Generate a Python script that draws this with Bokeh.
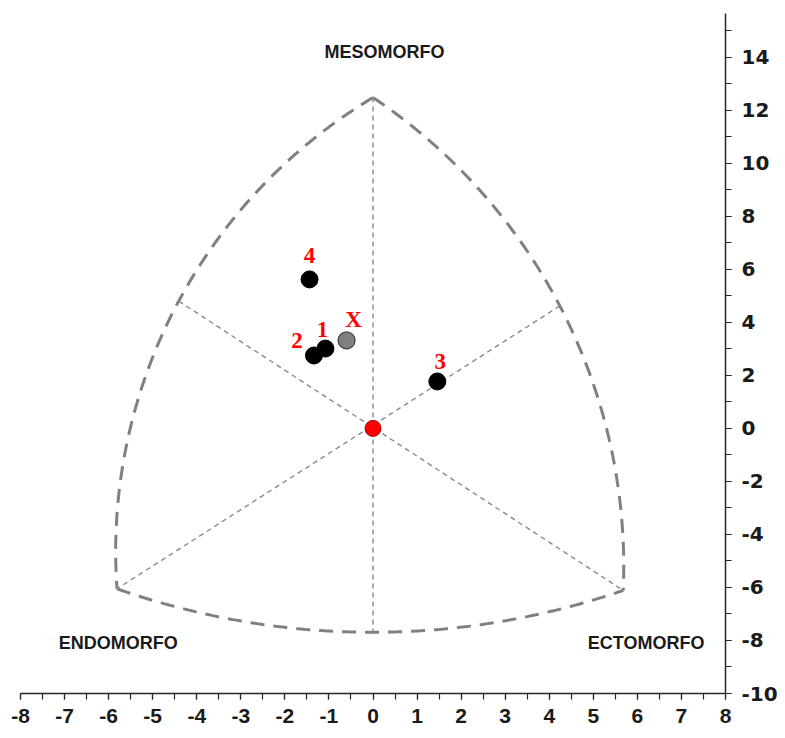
import numpy as np
from bokeh.plotting import figure
from bokeh.models import Range1d, FixedTicker, Label, ColumnDataSource, PrintfTickFormatter
from bokeh.embed import file_html
from bokeh.resources import INLINE
from bokeh.core.properties import value

# ---- data ----
subject_labels = ["1", "2", "3", "4"]
subject_x = [-1.08, -1.34, 1.46, -1.44]
subject_y = [3.01, 2.75, 1.77, 5.62]
mean_label = ["X"]
mean_x = [-0.60]
mean_y = [3.32]
origin_x = [0.0]
origin_y = [0.0]

# somatochart frame (corners and arc mid points)
apex_meso = (0.0, 12.48)
apex_endo = (-5.81, -6.05)
apex_ecto = (5.68, -6.11)
mid_endo_meso = (-4.41, 4.80)
mid_meso_ecto = (4.24, 4.62)
mid_endo_ecto = (0.0, -7.69)

x_ticks = list(range(-8, 9))
x_minor = [v / 2 for v in range(-16, 17)]
y_ticks = list(range(-10, 15, 2))
y_minor = list(range(-10, 16))

ASPECT = 26.5 / 44.06  # y-pixel per unit / x-pixel per unit


def arc(p0, pm, p1, n=200, k=ASPECT):
    pts = np.array([p0, pm, p1], float)
    pts[:, 1] *= k
    (ax, ay), (bx, by), (cx, cy) = pts
    d = 2 * (ax * (by - cy) + bx * (cy - ay) + cx * (ay - by))
    ux = ((ax**2 + ay**2) * (by - cy) + (bx**2 + by**2) * (cy - ay) + (cx**2 + cy**2) * (ay - by)) / d
    uy = ((ax**2 + ay**2) * (cx - bx) + (bx**2 + by**2) * (ax - cx) + (cx**2 + cy**2) * (bx - ax)) / d
    r = np.hypot(ax - ux, ay - uy)
    a0 = np.arctan2(ay - uy, ax - ux)
    am = np.arctan2(by - uy, bx - ux)
    a1 = np.arctan2(cy - uy, cx - ux)
    dm = (am - a0) % (2 * np.pi)
    d1 = (a1 - a0) % (2 * np.pi)
    if dm < d1:
        t = a0 + np.linspace(0, d1, n)
    else:
        t = a0 - np.linspace(0, 2 * np.pi - d1, n)
    xs = ux + r * np.cos(t)
    ys = (uy + r * np.sin(t)) / k
    return list(xs), list(ys)


p = figure(frame_width=705, frame_height=680, min_border_left=20, min_border_top=13,
           min_border_bottom=0, min_border_right=8,
           x_range=Range1d(-8, 8), y_range=Range1d(-10, 15.65),
           y_axis_location="right", output_backend="svg", toolbar_location=None,
           background_fill_color="white", border_fill_color="white")
p.outline_line_color = None
p.xgrid.visible = False
p.ygrid.visible = False

# outer boundary arcs
outer = [arc(apex_meso, mid_endo_meso, apex_endo),
         arc(apex_meso, mid_meso_ecto, apex_ecto),
         arc(apex_endo, mid_endo_ecto, apex_ecto)]
for xs, ys in outer:
    p.line(xs, ys, line_color="#808080", line_width=3, line_dash="14 9")

# inner lines through origin
inner = [(apex_meso, mid_endo_ecto), (mid_endo_meso, apex_ecto), (mid_meso_ecto, apex_endo)]
for a, b in inner:
    p.line([a[0], b[0]], [a[1], b[1]], line_color="#8a8a8a", line_width=1.4, line_dash="5 4")

# points
p.scatter(subject_x, subject_y, size=17, fill_color="black", line_color="black")
p.scatter(mean_x, mean_y, size=17, fill_color="#808080", line_color="#404040", line_width=1.2)
p.scatter(origin_x, origin_y, size=16, fill_color="#ff0000", line_color="#a00000", line_width=1)

# labels
lab_src = ColumnDataSource(dict(
    x=subject_x + mean_x, y=subject_y + mean_y, t=subject_labels + mean_label,
    dx=[-3, -17, 3, 0, 7], dy=[-19, -15, -20, -24, -21]))
p.text("x", "y", text="t", source=lab_src, x_offset="dx", y_offset="dy",
       text_font=value("Liberation Serif"), text_font_style="bold", text_font_size="23px",
       text_color="#ff0000", text_align="center", text_baseline="middle")

for txt, lx, ly in [("MESOMORFO", 0.26, 14.19), ("ENDOMORFO", -5.78, -8.08), ("ECTOMORFO", 6.2, -8.08)]:
    p.add_layout(Label(x=lx, y=ly, text=txt, text_font="Liberation Sans", text_font_style="bold",
                       text_font_size="18px", text_color="#1a1a1a", text_align="center",
                       text_baseline="middle"))

for ax, tk, mn in [(p.xaxis[0], x_ticks, x_minor), (p.yaxis[0], y_ticks, y_minor)]:
    ax.ticker = FixedTicker(ticks=tk, minor_ticks=mn)
    ax.formatter = PrintfTickFormatter(format="%d")
    ax.axis_line_color = "#262626"
    ax.axis_line_width = 1.5
    ax.major_tick_line_color = "#262626"
    ax.minor_tick_line_color = "#262626"
    ax.major_tick_line_width = 1.2
    ax.minor_tick_line_width = 1.2
    ax.major_tick_in = 0
    ax.major_tick_out = 6
    ax.minor_tick_in = 0
    ax.minor_tick_out = 6
    ax.major_label_text_font_style = "bold"
    ax.major_label_text_color = "#1a1a1a"

p.xaxis[0].major_label_text_font = "'Liberation Sans Narrow', 'Liberation Sans'"
p.xaxis[0].major_label_text_font_size = "21px"
p.xaxis[0].major_label_standoff = 9
p.yaxis[0].major_label_text_font = "DejaVu Sans"
p.yaxis[0].major_label_text_font_size = "20px"
p.yaxis[0].major_label_standoff = 10

open("out.html", "w").write(file_html(p, INLINE))
